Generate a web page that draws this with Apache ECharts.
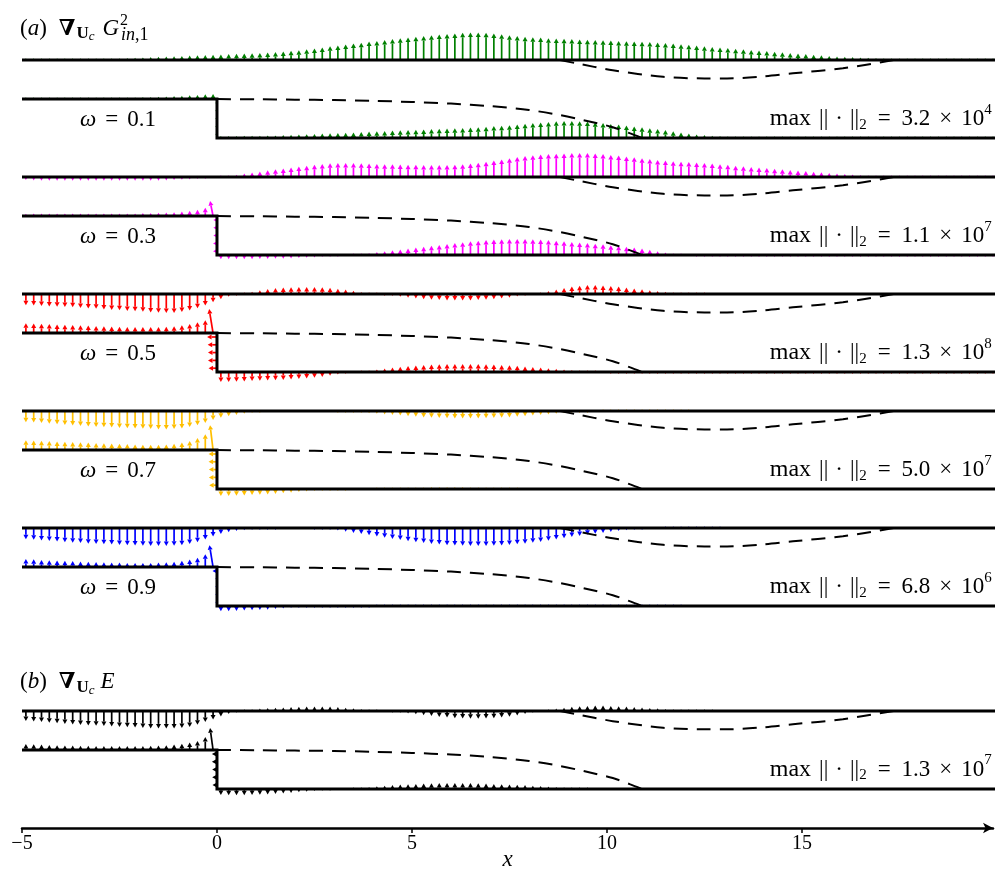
<!DOCTYPE html>
<html>
<head>
<meta charset="utf-8">
<script src="https://cdn.jsdelivr.net/npm/echarts@6/dist/echarts.min.js"></script>
<style>
  html, body { margin: 0; padding: 0; background: #fff; }
  #main { width: 997px; height: 871px; }
</style>
</head>
<body>
<div id="main"></div>
<script>
// Sensitivity vectors along the walls of a backward-facing step channel.
// Stations: upper wall x = -4.9 ... 19.9 (step 0.2), upstream lower wall
// x = -4.9 ... -0.1, downstream lower wall x = 0.1 ... 19.9, step face y = 0.1 ... 0.9.
// Values are wall-normal components in percent of the panel's reference norm
// (negative = pointing down / to the left).

const X_TOP = Array.from({ length: 125 }, (_, i) => +(-4.9 + 0.2 * i).toFixed(1));
const X_UP = X_TOP.slice(0, 25);
const X_DOWN = X_TOP.slice(25);
const Y_STEP = [0.1, 0.3, 0.5, 0.7, 0.9];

// ---- omega = 0.1 ----
const topW1 = [2,2,2,2,3,3,3,3,4,4, 4,5,6,7,8,9,10,11,12,13, 14,15,16,17,18,19,20,21,22,23,
  24,25,27,29,31,33,36,39,42,46, 49,52,55,58,62,64,67,70,73,75, 78,80,83,85,87,89,91,92,92,91,
  89,86,83,80,78,76,75,73,72,71, 70,69,68,67,66,65,64,63,62,61, 60,59,57,55,53,51,49,46,44,42,
  40,38,36,34,32,30,28,26,24,22, 20,18,16,14,12,11,10,9,8,7, 6,6,5,5,4,4,4,3,3,3, 3,2,2,2,2];
const upW1 = [2,2,2,3,3,3,3,4,4,4, 5,5,5,6,6,7,7,8,9,10, 11,13,14,16,17];
const cornerX1 = 0;
const stepW1 = [-4,-4,-4,-5,-5];
const downW1 = [7,7,7,8,8,8,9,9,10,11, 12,13,14,15,16,17,18,19,20,22, 23,24,25,26,27,28,29,30,31,32,
  33,34,35,36,38,40,41,43,45,48, 50,52,54,56,57,57,56,55,53,50, 47,45,42,39,36,33,30,27,23,19,
  15,12,10,8,7,6,5,4,4,3, 3,3,3,2,2,2,2,2,2,2, 2,2,2,2,2,2,2,2,2,2, 2,2,2,2,2,2,2,2,2,2];

// ---- omega = 0.3 ----
const topW3 = [-10,-11,-12,-12,-12,-12,-12,-12,-12,-12, -12,-12,-12,-12,-12,-12,-12,-12,-11,-10,
  -9,-8,-6,-3,0,2,5,8,12,15, 19,23,26,29,32,35,38,41,44,46, 47,47,47,46,45,44,43,43,42,41,
  41,40,40,40,40,41,43,45,48,51, 55,59,63,67,70,73,75,77,78,79, 80,80,80,79,77,74,72,69,66,63,
  60,57,55,53,51,50,49,47,45,43, 41,38,36,34,32,30,28,26,24,22, 20,18,16,14,12,10,9,7,6,5,
  4,3,3,2,2,2,1,1,1,1, 1,1,1,1,1];
const upW3 = [8,9,9,9,9,9,9,9,9,9, 9,9,9,9,9,10,10,11,12,13, 15,18,21,28,50];
const cornerX3 = -10;
const stepW3 = [-13,-13,-12,-12,-12];
const downW3 = [-14,-14,-14,-14,-14,-13,-13,-12,-12,-11, -10,-9,-8,-6,-4,-2,0,2,4,7,
  10,13,16,19,22,25,28,31,34,37, 40,43,46,48,50,52,53,54,54,54, 53,52,50,48,46,44,42,40,38,36,
  33,31,28,25,22,18,13,9,5,2, 0,-2,-3,-4,-5,-5,-6,-6,-6,-6, -6,-6,-6,-6,-6,-6,-6,-6,-6,-6,
  -6,-6,-6,-6,-6,-5,-5,-5,-5,-5, -5,-5,-5,-5,-5,-5,-5,-5,-5,-5];

// ---- omega = 0.5 ----
const topW5 = [-37,-38,-40,-41,-42,-43,-44,-46,-48,-49, -51,-53,-54,-56,-57,-59,-61,-62,-63,-63,
  -60,-55,-47,-38,-27,-17,-9,-3,3,8, 13,17,20,22,23,24,24,24,23,21, 18,15,11,7,4,1,-2,-5,-9,-12,
  -15,-17,-19,-20,-21,-21,-21,-21,-20,-19, -17,-15,-12,-8,-4,0,5,10,15,20, 25,28,30,30,29,27,25,22,19,16,
  13,10,8,6,4,3,2,1,0,0, 0,0,0,0,0,0,0,0,0,0, 0,0,0,0,0,0,0,0,0,0,
  0,0,0,0,0,0,0,0,0,0, 0,0,0,0,0];
const upW5 = [33,32,31,30,29,28,27,26,25,24, 23,22,21,20,20,20,20,20,21,23, 26,30,36,43,80];
const cornerX5 = -13;
const stepW5 = [-28,-30,-30,-31,-33];
const downW5 = [-33,-33,-32,-31,-30,-29,-28,-27,-26,-25, -23,-21,-19,-16,-12,-8,-4,0,3,6,
  9,12,15,18,20,22,24,25,26,27, 27,27,27,27,26,25,24,23,21,19, 17,15,13,11,9,7,5,3,1,0,
  -1,-2,-3,-3,-4,-4,-4,-4,-3,-3, -2,-2,-2,-2,-2,-2,-2,-2,-2,-2, -2,-2,-2,-2,-2,-2,-2,-2,-2,-2,
  -2,-2,-2,-2,-2,-2,-2,-2,-2,-2, -2,-2,-2,-2,-2,-2,-2,-2,-2,-2];

// ---- omega = 0.7 ----
const topW7 = [-37,-38,-40,-42,-44,-46,-48,-50,-51,-53, -54,-55,-56,-57,-58,-59,-60,-61,-61,-60,
  -58,-53,-47,-40,-30,-22,-17,-13,-9,-5, -2,0,0,0,0,0,0,0,0,0, -1,-2,-3,-5,-7,-9,-11,-13,-15,-17,
  -19,-21,-22,-23,-24,-25,-25,-25,-25,-24, -23,-22,-21,-19,-17,-15,-13,-11,-9,-7, -5,-3,-2,0,1,2,2,3,3,3,
  3,3,2,2,1,1,0,0,0,0, 0,0,0,0,0,0,0,0,0,0, 0,0,0,0,0,0,0,0,0,0,
  0,0,0,0,0,0,0,0,0,0, 0,0,0,0,0];
const upW7 = [33,32,31,30,29,28,27,26,25,24, 23,22,21,20,19,18,18,18,19,21, 25,30,40,53,83];
const cornerX7 = -10;
const stepW7 = [-26,-27,-27,-28,-28];
const downW7 = [-23,-23,-22,-21,-20,-19,-18,-16,-14,-12, -10,-8,-6,-4,-3,-2,-1,0,0,0,
  1,2,3,4,5,6,6,7,7,7, 7,7,6,6,5,4,3,2,1,0, 0,0,0,0,0,0,0,0,0,0,
  0,0,0,0,0,0,0,0,0,0, 0,0,0,0,0,0,0,0,0,0, 0,0,0,0,0,0,0,0,0,0,
  0,0,0,0,0,0,0,0,0,0, 0,0,0,0,0,0,0,0,0,0];

// ---- omega = 0.9 ----
const topW9 = [-37,-39,-41,-43,-45,-47,-49,-50,-52,-53, -54,-55,-56,-57,-58,-59,-60,-60,-60,-59,
  -57,-53,-47,-38,-28,-20,-14,-10,-7,-5, -3,-2,-1,0,0,0,0,-1,-3,-5, -8,-12,-16,-20,-24,-28,-32,-36,-40,-44,
  -47,-50,-53,-55,-57,-58,-59,-60,-60,-60, -59,-58,-56,-54,-52,-49,-46,-42,-38,-34, -30,-26,-22,-19,-16,-13,-10,-7,-4,-2,
  0,1,2,3,3,3,3,3,2,2, 1,1,1,1,1,1,1,1,1,1, 1,1,1,1,1,1,1,1,1,1,
  1,1,1,1,1,1,1,1,1,1, 1,1,1,1,1];
const upW9 = [27,26,24,23,22,21,20,19,18,17, 16,15,15,14,14,14,14,15,16,18, 21,25,31,43,73];
const cornerX9 = -12;
const stepW9 = [-5,-5,-5,-6,-15];
const downW9 = [-17,-17,-16,-15,-14,-13,-12,-10,-8,-6, -5,-4,-3,-3,-2,-2,-2,-2,-2,-2,
  3,3,3,3,3,3,3,3,3,3, 3,3,3,3,3,3,3,3,3,3, 3,3,3,3,3,3,3,3,3,3,
  3,3,3,3,3,3,3,3,3,3, 0,0,0,0,0,0,0,0,0,0, 0,0,0,0,0,0,0,0,0,0,
  0,0,0,0,0,0,0,0,0,0, 0,0,0,0,0,0,0,0,0,0];

// ---- energy gradient ----
const topE = [-33,-35,-37,-39,-41,-43,-45,-47,-48,-49, -50,-52,-53,-54,-55,-57,-58,-58,-58,-58,
  -57,-53,-46,-37,-28,-18,-10,-5,3,6, 8,10,11,12,13,14,15,15,15,15, 13,11,9,7,5,3,1,-2,-5,-8,
  -11,-14,-17,-20,-22,-24,-25,-26,-26,-25, -24,-22,-19,-15,-10,-5,0,4,8,11, 14,16,17,18,18,17,16,15,13,12,
  10,9,7,6,5,4,3,2,2,1, 1,1,1,1,1,1,1,1,1,1, 1,1,1,1,1,1,1,1,1,1,
  1,1,1,1,1,1,1,1,1,1, 1,1,1,1,1];
const upE = [20,19,18,17,16,15,15,14,14,13, 13,13,13,13,13,13,14,15,16,18, 21,25,30,43,73];
const cornerXE = -10;
const stepE = [-15,-16,-16,-17,-17];
const downE = [-20,-21,-21,-21,-20,-19,-18,-17,-15,-13, -11,-9,-7,-5,-3,-1,1,3,5,7,
  9,11,13,15,16,17,18,19,20,20, 20,20,20,19,18,17,16,15,14,13, 11,10,8,7,5,4,3,2,1,1,
  0,0,-1,-1,-1,-1,-1,-1,-1,-1, 0,0,0,0,0,0,0,0,0,0, 0,0,0,0,0,0,0,0,0,0,
  0,0,0,0,0,0,0,0,0,0, 0,0,0,0,0,0,0,0,0,0];

// Mean-flow separating streamlines (relative to the panel's lower wall / upper wall)
const SEP_LOW_X = [0, 1, 2, 3, 4, 5, 6, 7, 8, 8.8, 9.4, 10.15, 10.6, 10.9];
const SEP_LOW_Y = [1.0, 0.995, 0.985, 0.975, 0.955, 0.925, 0.885, 0.82, 0.72, 0.59, 0.46, 0.28, 0.12, 0.0];
const SEP_UP_X = [8.8, 9.2, 10.15, 11.44, 12.5, 13.08, 14.0, 14.77, 16.05, 17.35];
const SEP_UP_D = [0, 0.08, 0.26, 0.43, 0.47, 0.47, 0.42, 0.34, 0.21, 0];

const OMEGA = ['0.1', '0.3', '0.5', '0.7', '0.9'];
const MAX_MANT = ['3.2', '1.1', '1.3', '5.0', '6.8', '1.3'];
const MAX_EXP = ['4', '7', '8', '7', '6', '7'];
const COLORS = ['#008000', '#ff00ff', '#ff0000', '#ffbf00', '#0000ff', '#000000'];

const PANELS = [
  { top: topW1, up: upW1, cx: cornerX1, step: stepW1, down: downW1 },
  { top: topW3, up: upW3, cx: cornerX3, step: stepW3, down: downW3 },
  { top: topW5, up: upW5, cx: cornerX5, step: stepW5, down: downW5 },
  { top: topW7, up: upW7, cx: cornerX7, step: stepW7, down: downW7 },
  { top: topW9, up: upW9, cx: cornerX9, step: stepW9, down: downW9 },
  { top: topE, up: upE, cx: cornerXE, step: stepE, down: downE }
];

// ---- layout ----
const PX_PER_UNIT = 39;
const GRID_H = 828;
const Y_MAX = GRID_H / PX_PER_UNIT;
const PANEL_BASE = [17.69, 14.69, 11.69, 8.69, 5.69, 1.0]; // downstream lower wall level
const ARROW_UNIT = 0.3 / PX_PER_UNIT;  // data units per percent
const HEAD_LEN = 4.5, HEAD_HALF = 2.5, HEAD_MIN = 1.8, SHAFT_W = 1.7;
const SERIF = '"Liberation Serif", "DejaVu Serif", serif';

function arrowRenderer(color) {
  return function (params, api) {
    const x = api.value(0), y = api.value(1), vx = api.value(2), vy = api.value(3);
    if (!vx && !vy) return null;
    const p0 = api.coord([x, y]);
    const p1 = api.coord([x + vx * ARROW_UNIT, y + vy * ARROW_UNIT]);
    const dx = p1[0] - p0[0], dy = p1[1] - p0[1];
    const len = Math.hypot(dx, dy);
    if (len < 0.3) return null;
    const ux = dx / len, uy = dy / len;
    const L = Math.max(len, HEAD_MIN);
    const hl = Math.min(HEAD_LEN, L);
    const hw = Math.max(HEAD_HALF * hl / HEAD_LEN, 1.0);
    const tip = [p0[0] + ux * L, p0[1] + uy * L];
    const bx = tip[0] - ux * hl, by = tip[1] - uy * hl;
    const children = [];
    if (L - hl > 0.3) {
      children.push({ type: 'line', shape: { x1: p0[0], y1: p0[1], x2: bx, y2: by },
        style: { stroke: color, lineWidth: SHAFT_W } });
    }
    children.push({ type: 'polygon',
      shape: { points: [tip, [bx - uy * hw, by + ux * hw], [bx + uy * hw, by - ux * hw]] },
      style: { fill: color } });
    return { type: 'group', children };
  };
}

const series = [];
PANELS.forEach((p, k) => {
  const b = PANEL_BASE[k];
  const data = [];
  X_TOP.forEach((x, i) => data.push([x, b + 2, 0, p.top[i]]));
  X_UP.forEach((x, i) => data.push([x, b + 1, i === X_UP.length - 1 ? p.cx : 0, p.up[i]]));
  Y_STEP.forEach((y, i) => data.push([0, b + y, p.step[i], 0]));
  X_DOWN.forEach((x, i) => data.push([x, b, 0, p.down[i]]));
  series.push({ type: 'custom', renderItem: arrowRenderer(COLORS[k]), data, clip: false, z: 3, silent: true });

  // walls
  series.push({ type: 'line', data: [[-5, b + 2], [20, b + 2]], symbol: 'none', clip: false, z: 5, silent: true,
    lineStyle: { color: '#000', width: 3 } });
  series.push({ type: 'line', data: [[-5, b + 1], [0, b + 1], [0, b], [20, b]], symbol: 'none', clip: false, z: 5, silent: true,
    lineStyle: { color: '#000', width: 3, join: 'miter' } });
  // separating streamlines
  series.push({ type: 'line', data: SEP_LOW_X.map((x, i) => [x, b + SEP_LOW_Y[i]]), smooth: 0.3, symbol: 'none', z: 4, silent: true,
    lineStyle: { color: '#000', width: 2, type: [14, 9] } });
  series.push({ type: 'line', data: SEP_UP_X.map((x, i) => [x, b + 2 - SEP_UP_D[i]]), smooth: 0.3, symbol: 'none', z: 4, silent: true,
    lineStyle: { color: '#000', width: 2, type: [14, 9] } });
});

const chart = echarts.init(document.getElementById('main'));
chart.setOption({
  animation: false,
  grid: { left: 22, right: 4, top: 0, bottom: 871 - GRID_H, containLabel: false, outerBoundsMode: 'none' },
  xAxis: {
    type: 'value', min: -5, max: 19.9, interval: 5,
    axisLine: { show: true, symbol: ['none', 'arrow'], symbolSize: [8, 10], lineStyle: { color: '#000', width: 2.5 } },
    axisTick: { show: true, length: 5, lineStyle: { color: '#000', width: 1.5 } },
    axisLabel: { color: '#000', fontFamily: SERIF, fontSize: 20, margin: 6, showMaxLabel: false,
      formatter: v => (v < 0 ? '\u2212' + (-v) : String(v)) },
    splitLine: { show: false }
  },
  yAxis: { type: 'value', min: 0, max: Y_MAX, show: false },
  series
});

// ---- annotations (text runs with sub/superscripts) ----
const mctx = document.createElement('canvas').getContext('2d');
function fontOf(s) {
  return (s.i ? 'italic ' : '') + (s.b ? 'bold ' : '') + s.s + 'px ' + (s.f || SERIF);
}
function textRun(segs, px, py, align) {
  const w = segs.map(s => { mctx.font = fontOf(s); return mctx.measureText(s.t).width; });
  let total = 0;
  segs.forEach((s, i) => { total += (s.gap || 0) + (s.keep ? 0 : w[i]); });
  let cx = align === 'right' ? px - total : align === 'center' ? px - total / 2 : px;
  const els = [];
  segs.forEach((s, i) => {
    cx += s.gap || 0;
    els.push({ type: 'text', x: cx, y: py + (s.dy || 0), silent: true, z: 10,
      style: { text: s.t, fill: '#000', fontSize: s.s, fontFamily: s.f || SERIF,
        fontStyle: s.i ? 'italic' : 'normal', fontWeight: s.b ? 'bold' : 'normal',
        align: 'left', verticalAlign: 'middle', textAlign: 'left', textVerticalAlign: 'middle' } });
    if (!s.keep) cx += w[i];
  });
  return els;
}

const graphics = [];
const NABLA_FONT = '"DejaVu Serif", serif';
function gradTitle(letter, tail, x, y) {
  return textRun([
    { t: '(', s: 23 }, { t: letter, s: 23, i: 1 }, { t: ')', s: 23 },
    { t: '\u2207', s: 22, b: 1, f: NABLA_FONT, gap: 12 },
    { t: 'U', s: 17, b: 1, gap: 1, dy: 5 }, { t: 'c', s: 13, i: 1, dy: 8 }
  ].concat(tail), x, y, 'left');
}
const pA = chart.convertToPixel({ gridIndex: 0 }, [-5.05, PANEL_BASE[0] + 2.8]);
graphics.push(...gradTitle('a', [
  { t: 'G', s: 23, i: 1, gap: 8 }, { t: '2', s: 16, gap: 1, dy: -8, keep: 1 },
  { t: 'in', s: 18, i: 1, gap: 1, dy: 6 }, { t: ',1', s: 18, dy: 6 }
], pA[0], pA[1]));
const pB = chart.convertToPixel({ gridIndex: 0 }, [-5.05, PANEL_BASE[5] + 2.74]);
graphics.push(...gradTitle('b', [{ t: 'E', s: 23, i: 1, gap: 6 }], pB[0], pB[1]));

PANEL_BASE.forEach((b, k) => {
  if (k < OMEGA.length) {
    const p = chart.convertToPixel({ gridIndex: 0 }, [-2.54, b + 0.46]);
    graphics.push(...textRun([
      { t: '\u03c9', s: 23, i: 1 }, { t: '=', s: 23, gap: 9 }, { t: OMEGA[k], s: 23, gap: 9 }
    ], p[0], p[1], 'center'));
  }
  const q = chart.convertToPixel({ gridIndex: 0 }, [19.87, b + 0.5]);
  graphics.push(...textRun([
    { t: 'max', s: 24 }, { t: '||', s: 23, gap: 8 }, { t: '\u00b7', s: 23, gap: 7 }, { t: '||', s: 23, gap: 7 },
    { t: '2', s: 15, dy: 6 }, { t: '=', s: 23, gap: 11 }, { t: MAX_MANT[k], s: 23, gap: 11 },
    { t: '\u00d7', s: 23, gap: 9 }, { t: '10', s: 23, gap: 9 }, { t: MAX_EXP[k], s: 15, dy: -9 }
  ], q[0], q[1], 'right'));
});

// x-axis title, centred under the axis
const pX = chart.convertToPixel({ gridIndex: 0 }, [7.45, 0]);
graphics.push(...textRun([{ t: 'x', s: 23, i: 1 }], pX[0], pX[1] + 32, 'center'));

chart.setOption({ graphic: { elements: graphics } });
</script>
</body>
</html>
